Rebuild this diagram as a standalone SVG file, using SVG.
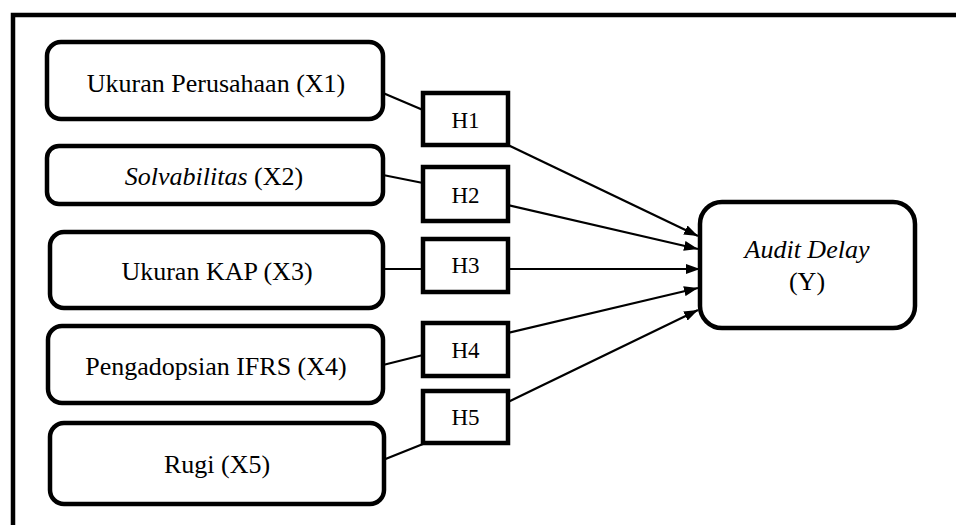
<svg xmlns="http://www.w3.org/2000/svg" width="956" height="525" viewBox="0 0 956 525">
  <style>
    .frame { fill: none; stroke: #000; stroke-width: 4.5; }
    .var { fill: #fff; stroke: #000; stroke-width: 4.5; }
    .hyp { fill: #fff; stroke: #000; stroke-width: 4.5; }
    .lbl { font-family: "Liberation Serif", "Times New Roman", serif; font-size: 26px; fill: #000; text-anchor: middle; }
    .hlbl { font-family: "Liberation Serif", "Times New Roman", serif; font-size: 23px; fill: #000; text-anchor: middle; }
    .it { font-style: italic; }
    .link { fill: none; stroke: #000; stroke-width: 2.2; }
  </style>
  <defs>
    <marker id="arrow" viewBox="0 0 14 10" refX="14" refY="5" markerWidth="14" markerHeight="10" markerUnits="userSpaceOnUse" orient="auto">
      <path d="M0,0 L14,5 L0,10 z" fill="#000"/>
    </marker>
  </defs>
  <rect width="956" height="525" fill="#fff"/>

  <!-- outer frame (continues past the right and bottom edges) -->
  <path class="frame" d="M13,530 L13,15 L960,15"/>

  <!-- connectors -->
  <g id="connectors">
    <line class="link" x1="383" y1="93" x2="423" y2="110"/>
    <line class="link" x1="383" y1="175" x2="423" y2="183"/>
    <line class="link" x1="383" y1="269" x2="423" y2="269"/>
    <line class="link" x1="383" y1="365" x2="423" y2="355"/>
    <line class="link" x1="383" y1="460" x2="423" y2="444"/>
    <line class="link" x1="508" y1="145" x2="698" y2="236" marker-end="url(#arrow)"/>
    <line class="link" x1="508" y1="205" x2="698" y2="249" marker-end="url(#arrow)"/>
    <line class="link" x1="508" y1="269" x2="700" y2="269" marker-end="url(#arrow)"/>
    <line class="link" x1="508" y1="333" x2="698" y2="288" marker-end="url(#arrow)"/>
    <line class="link" x1="508" y1="402" x2="698" y2="310" marker-end="url(#arrow)"/>
  </g>

  <g id="x1">
    <rect class="var" x="47" y="42" width="336" height="77" rx="14"/>
    <text class="lbl" x="216" y="92">Ukuran Perusahaan (X1)</text>
  </g>
  <g id="x2">
    <rect class="var" x="47" y="146" width="336" height="58" rx="12"/>
    <text class="lbl" x="214" y="185"><tspan class="it">Solvabilitas</tspan> (X2)</text>
  </g>
  <g id="x3">
    <rect class="var" x="50" y="232" width="333" height="76" rx="14"/>
    <text class="lbl" x="217" y="280">Ukuran KAP (X3)</text>
  </g>
  <g id="x4">
    <rect class="var" x="48" y="326" width="335" height="77" rx="14"/>
    <text class="lbl" x="216" y="375">Pengadopsian IFRS (X4)</text>
  </g>
  <g id="x5">
    <rect class="var" x="50" y="423" width="334" height="81" rx="14"/>
    <text class="lbl" x="217" y="473">Rugi (X5)</text>
  </g>

  <g id="h1">
    <rect class="hyp" x="423" y="93" width="85" height="52"/>
    <text class="hlbl" x="465.5" y="128">H1</text>
  </g>
  <g id="h2">
    <rect class="hyp" x="423" y="167" width="85" height="54"/>
    <text class="hlbl" x="465.5" y="203">H2</text>
  </g>
  <g id="h3">
    <rect class="hyp" x="423" y="239" width="85" height="53"/>
    <text class="hlbl" x="465.5" y="273">H3</text>
  </g>
  <g id="h4">
    <rect class="hyp" x="423" y="323" width="85" height="53"/>
    <text class="hlbl" x="465.5" y="358">H4</text>
  </g>
  <g id="h5">
    <rect class="hyp" x="423" y="391" width="85" height="52"/>
    <text class="hlbl" x="465.5" y="425">H5</text>
  </g>

  <g id="y">
    <rect class="var" x="700" y="202" width="215" height="126" rx="22"/>
    <text class="lbl it" x="807" y="258">Audit Delay</text>
    <text class="lbl" x="807" y="290">(Y)</text>
  </g>
</svg>
